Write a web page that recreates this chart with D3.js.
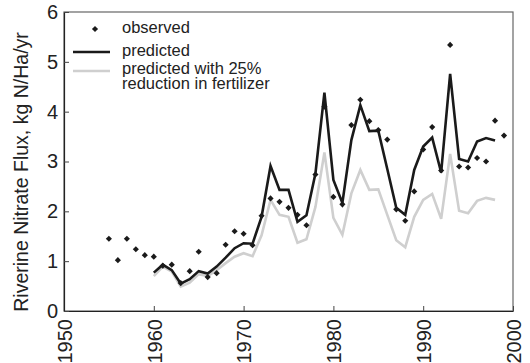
<!DOCTYPE html>
<html>
<head>
<meta charset="utf-8">
<script src="https://cdn.jsdelivr.net/npm/d3@7"></script>
<style>
  body { margin: 0; background: #fff; }
  svg { font-family: "Liberation Sans", Arial, sans-serif; }
</style>
</head>
<body>
<div class="chart-box"></div>
<script>
// observed flux, 1955-1999
let obsYears = d3.range(1955, 2000);
let observed = [1.45, 1.02, 1.45, 1.24, 1.12, 1.09, 0.91, 0.93, 0.56, 0.80,
  1.19, 0.68, 0.76, 1.33, 1.60, 1.55, 1.32, 1.91, 2.26, 2.19,
  2.07, 1.93, 1.72, 2.74, 4.10, 2.29, 2.14, 3.73, 4.24, 3.81,
  3.63, 3.44, 2.04, 1.81, 2.40, 3.24, 3.69, 2.82, 5.34, 2.90,
  2.88, 3.07, 3.00, 3.82, 3.52];

// model runs, 1960-1998
let predYears = d3.range(1960, 1999);
let predicted = [0.77, 0.93, 0.82, 0.55, 0.64, 0.80, 0.75, 0.89, 1.07, 1.26,
  1.36, 1.35, 1.89, 2.91, 2.43, 2.43, 1.79, 1.92, 2.76, 4.38,
  2.63, 2.17, 3.43, 4.13, 3.61, 3.62, 2.85, 2.07, 1.93, 2.83,
  3.30, 3.48, 2.78, 4.76, 3.05, 3.00, 3.40, 3.47, 3.42];
let reduced = [0.70, 0.89, 0.79, 0.49, 0.57, 0.74, 0.70, 0.82, 0.96, 1.09,
  1.16, 1.10, 1.52, 2.23, 1.93, 1.89, 1.37, 1.44, 2.09, 3.18,
  1.87, 1.53, 2.36, 2.83, 2.43, 2.44, 1.93, 1.42, 1.28, 1.89,
  2.23, 2.35, 1.85, 3.15, 2.01, 1.96, 2.21, 2.27, 2.23];

let xTicks = [1950, 1960, 1970, 1980, 1990, 2000];
let yTicks = [0, 1, 2, 3, 4, 5, 6];
let legendLabels = ["observed", "predicted", "predicted with 25%", "reduction in fertilizer"];

let width = 530, height = 363;
let mLeft = 64, mRight = 513, mTop = 12, mBottom = 311;

let svg = d3.select(".chart-box")
  .append("svg")
  .attr("width", width)
  .attr("height", height);

let x = d3.scaleLinear().domain([1950, 2000]).range([mLeft, mRight]);
let y = d3.scaleLinear().domain([0, 6]).range([mBottom, mTop]);

// frame
svg.append("rect")
  .attr("x", mLeft).attr("y", mTop)
  .attr("width", mRight - mLeft).attr("height", mBottom - mTop)
  .attr("fill", "none")
  .attr("stroke", "#666")
  .attr("stroke-width", 1.2);

// x axis
let xAxis = svg.append("g")
  .attr("transform", "translate(0," + mBottom + ")")
  .call(d3.axisBottom(x).tickValues(xTicks).tickFormat(d3.format("d"))
    .tickSizeInner(-5).tickSizeOuter(0));
xAxis.select(".domain").attr("stroke", "#222").attr("stroke-width", 1.2);
xAxis.selectAll(".tick line").attr("stroke", "#444");
xAxis.selectAll(".tick text")
  .attr("transform", "rotate(-90)")
  .attr("text-anchor", "end")
  .attr("x", -8)
  .attr("y", 0)
  .attr("dy", "0.36em")
  .attr("font-size", 20)
  .attr("fill", "#222");

// y axis
let yAxis = svg.append("g")
  .attr("transform", "translate(" + mLeft + ",0)")
  .call(d3.axisLeft(y).tickValues(yTicks).tickFormat(d3.format("d"))
    .tickSizeInner(-5).tickSizeOuter(0).tickPadding(6));
yAxis.select(".domain").attr("stroke", "#222").attr("stroke-width", 1.2);
yAxis.selectAll(".tick line").attr("stroke", "#444");
yAxis.selectAll(".tick text")
  .attr("font-size", 20)
  .attr("fill", "#222");

svg.append("text")
  .attr("transform", "translate(28,172) rotate(-90)")
  .attr("text-anchor", "middle")
  .attr("font-size", 19.5)
  .attr("fill", "#222")
  .text("Riverine Nitrate Flux, kg N/Ha/yr");

let line = d3.line()
  .x(function (d) { return x(d[0]); })
  .y(function (d) { return y(d[1]); });

svg.append("path")
  .datum(d3.zip(predYears, reduced))
  .attr("d", line)
  .attr("fill", "none")
  .attr("stroke", "#cfcfcf")
  .attr("stroke-width", 2.6);

svg.append("path")
  .datum(d3.zip(predYears, predicted))
  .attr("d", line)
  .attr("fill", "none")
  .attr("stroke", "#1a1a1a")
  .attr("stroke-width", 2.6);

let diamond = d3.symbol().type(d3.symbolDiamond2).size(24);

svg.append("g")
  .selectAll("path")
  .data(d3.zip(obsYears, observed))
  .enter()
  .append("path")
  .attr("d", diamond)
  .attr("transform", function (d) { return "translate(" + x(d[0]) + "," + y(d[1]) + ")"; })
  .attr("fill", "#1a1a1a");

// legend
let lg = svg.append("g");
lg.append("path")
  .attr("d", diamond)
  .attr("transform", "translate(95,29)")
  .attr("fill", "#1a1a1a");
lg.append("line")
  .attr("x1", 73).attr("x2", 110).attr("y1", 52).attr("y2", 52)
  .attr("stroke", "#1a1a1a").attr("stroke-width", 2.6);
lg.append("line")
  .attr("x1", 73).attr("x2", 110).attr("y1", 71).attr("y2", 71)
  .attr("stroke", "#cfcfcf").attr("stroke-width", 2.6);
let legendY = [33, 56, 74, 89];
lg.selectAll("text")
  .data(legendLabels)
  .enter()
  .append("text")
  .attr("x", 122)
  .attr("y", function (d, i) { return legendY[i]; })
  .attr("font-size", 16.5)
  .attr("fill", "#222")
  .text(function (d) { return d; });
</script>
</body>
</html>
